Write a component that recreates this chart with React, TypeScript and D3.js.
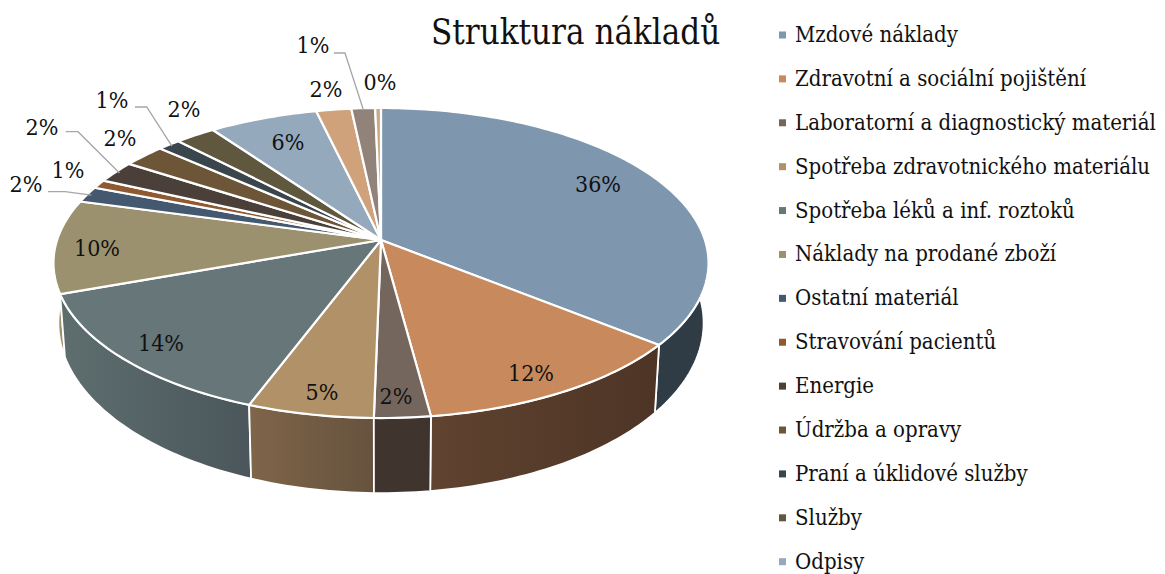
import React from "react";
import * as d3 from "d3";

const title = "Struktura nákladů";
const legendCategories = [
  "Mzdové náklady", "Zdravotní a sociální pojištění", "Laboratorní a diagnostický materiál",
  "Spotřeba zdravotnického materiálu", "Spotřeba léků a inf. roztoků", "Náklady na prodané zboží",
  "Ostatní materiál", "Stravování pacientů", "Energie", "Údržba a opravy",
  "Praní a úklidové služby", "Služby", "Odpisy",
];
const shares = [35.8, 12.1, 2.4, 5.4, 13.8, 9.75, 1.67, 0.9, 2.3, 2.4, 1.3, 2.3, 6.2, 2.0, 1.35, 0.33];
const topColors = [
  "#7e96ae", "#c8895d", "#75665d", "#b09168", "#667679", "#9b916e", "#44596f", "#8f5a32",
  "#4a3f39", "#6d5638", "#3a454c", "#5f583f", "#94a9bc", "#cfa27b", "#91827a", "#c9aa85",
];
const wallLeft = [
  "#303c47", "#604330", "#40352f", "#7f6549", "#5e6e6e", "#9b916e", "#44596f", "#8f5a32",
  "#4a3f39", "#6d5638", "#3a454c", "#5f583f", "#94a9bc", "#cfa27b", "#91827a", "#c9aa85",
];
const wallRight = [
  "#2f3b45", "#4d3425", "#3e332d", "#66523e", "#4a565b", "#9b916e", "#44596f", "#8f5a32",
  "#4a3f39", "#6d5638", "#3a454c", "#5f583f", "#94a9bc", "#cfa27b", "#91827a", "#c9aa85",
];

// Layout of the data labels (text centres, px) and of the elbowed leader lines.
const labelX = [598, 531, 396, 322, 161, 97, 26, 68, 42, 120, 112, 184, 288, 326, 313, 380];
const labelY = [184, 373, 396, 392, 343, 248, 184, 170, 127, 138, 100, 109, 142, 89, 45, 82];
const leaders: [number, [number, number], [number, number]][] = [
  [6, [48, 191.7], [65, 191.7]],
  [8, [65.7, 131.7], [78, 131.7]],
  [10, [135, 107], [146.7, 107]],
  [14, [334, 53], [345, 53]],
];

const W = 1165;
const H = 574;
const SERIF = "'DejaVu Serif Condensed', 'DejaVu Serif', serif";

// Perspective view of the circular pie top.
const cx = 381, apexY = 240, k = 323.9, persp = 0.1484, tilt = 116;
function project(theta: number, r = 1): [number, number] {
  const u = r * Math.sin(theta);
  const v = r * Math.cos(theta);
  const d = 1 + persp * v;
  return [cx + (k * u) / d, (apexY - tilt * v) / d];
}
// The base rim, derived from a rim point.
const baseShrink = 0.985, baseStretch = 1.097, baseShift = 34.5;
function toBase([x, y]: [number, number]): [number, number] {
  return [cx + (x - cx) * baseShrink, baseStretch * y + baseShift];
}

const slices = d3.pie<number>().sort(null).value((d) => d)(shares);
const line = d3.line();
function arcPoints(a0: number, a1: number): [number, number][] {
  const n = Math.max(2, Math.ceil((a1 - a0) / 0.02));
  return d3.range(n + 1).map((i) => project(a0 + ((a1 - a0) * i) / n));
}

const tops = slices.map((s) => line([[cx, apexY], ...arcPoints(s.startAngle, s.endAngle)]) + "Z");
const walls = slices
  .map((s, i) => {
    const rim = arcPoints(s.startAngle, s.endAngle);
    const base = rim.map(toBase).reverse();
    const xs = rim.concat(base).map((p) => p[0]);
    const depth = d3.max(rim, (p) => p[1]) as number;
    return { i, d: line([...rim, ...base]) + "Z", x0: d3.min(xs) as number, x1: d3.max(xs) as number, depth };
  })
  .sort((a, b) => a.depth - b.depth);

const pct = d3.format(".0f");
const legendY = d3.scalePoint<number>().domain(d3.range(legendCategories.length)).range([35, 561.7]);

export default function App() {
  return (
    <svg width={W} height={H} viewBox={`0 0 ${W} ${H}`} style={{ position: "absolute", left: 0, top: 0, background: "#fff" }}>
      <defs>
        {walls.map((w) => (
          <linearGradient key={w.i} id={`wall${w.i}`} gradientUnits="userSpaceOnUse" x1={w.x0} x2={w.x1} y1={0} y2={0}>
            <stop offset="0" stopColor={wallLeft[w.i]} />
            <stop offset="1" stopColor={wallRight[w.i]} />
          </linearGradient>
        ))}
      </defs>
      <text x={431} y={44} fontFamily={SERIF} fontSize={34.6} fill="#111">{title}</text>

      <g>
        {walls.map((w) => (
          <path key={w.i} d={w.d} fill={`url(#wall${w.i})`} stroke="#fff" strokeWidth={1.8} strokeLinejoin="round" />
        ))}
      </g>
      <g>
        {tops.map((d, i) => (
          <path key={i} d={d} fill={topColors[i]} stroke="#fff" strokeWidth={2.2} strokeLinejoin="round" />
        ))}
      </g>

      <g fill="none" stroke="#a6a6a6" strokeWidth={1.3}>
        {leaders.map(([i, a, b]) => {
          const mid = (slices[i].startAngle + slices[i].endAngle) / 2;
          return <path key={i} d={line([a, b, project(mid, 0.985)]) as string} />;
        })}
      </g>

      <g fontFamily={SERIF} fontSize={23} fill="#111" textAnchor="middle">
        {shares.map((v, i) => (
          <text key={i} x={labelX[i]} y={labelY[i] + 8}>{pct(v)}%</text>
        ))}
      </g>

      <g fontFamily={SERIF} fontSize={22} fill="#111">
        {legendCategories.map((c, i) => (
          <g key={c}>
            <rect x={779} y={(legendY(i) as number) - 3.5} width={7} height={7} fill={topColors[i]} />
            <text x={795} y={(legendY(i) as number) + 7}>{c}</text>
          </g>
        ))}
      </g>
    </svg>
  );
}
